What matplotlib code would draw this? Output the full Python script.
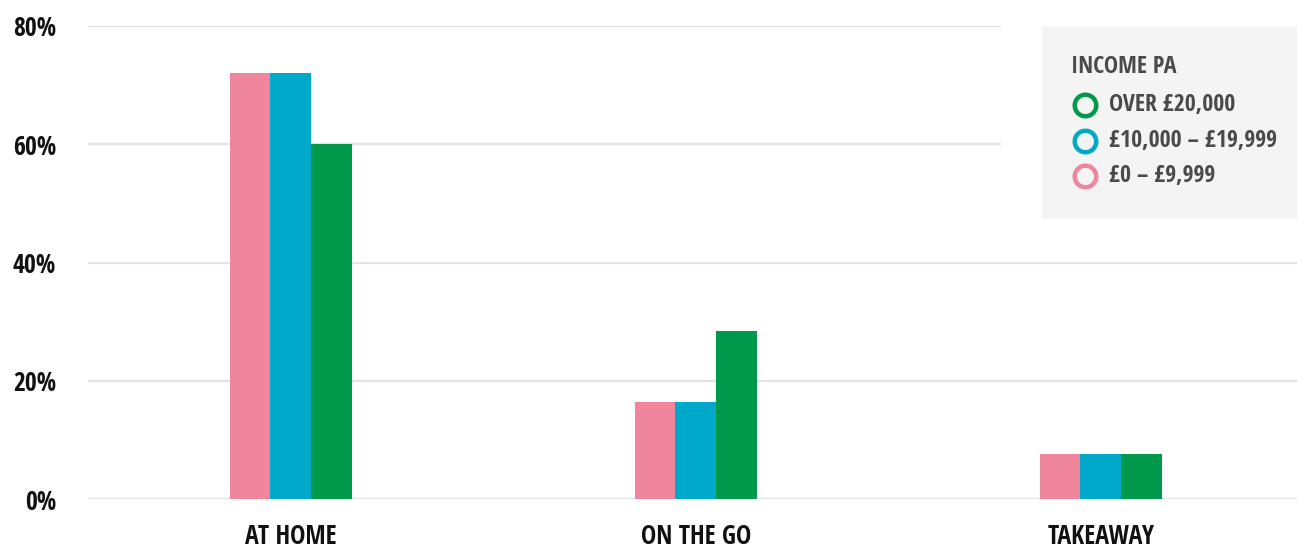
import matplotlib
matplotlib.use("Agg")
import matplotlib.pyplot as plt
from matplotlib import font_manager
from matplotlib.patches import Rectangle
from matplotlib.lines import Line2D
import numpy as np

# ---- data -------------------------------------------------------------
categories = ["AT HOME", "ON THE GO", "TAKEAWAY"]
series_names = ["£0 – £9,999", "£10,000 – £19,999", "OVER £20,000"]
low_income = [72.0, 16.4, 7.6]
mid_income = [72.0, 16.4, 7.6]
high_income = [60.0, 28.4, 7.6]
y_ticks = [0, 20, 40, 60, 80]
y_tick_labels = ["0%", "20%", "40%", "60%", "80%"]
legend_title = "INCOME PA"

colors = ["#EF869E", "#00A8C9", "#00984A"]

# ---- pick the narrowest installed sans family --------------------------
def pick_font():
    names = {(f.name, f.stretch) for f in font_manager.fontManager.ttflist}
    plain = {n for n, _ in names}
    for cand in ["Open Sans Condensed", "Liberation Sans Narrow",
                 "DejaVu Sans Condensed", "Roboto Condensed"]:
        if cand in plain:
            return dict(family=cand)
    for n, s in names:
        if n == "DejaVu Sans" and "condensed" in str(s):
            return dict(family="DejaVu Sans", stretch="condensed")
    return dict(family="DejaVu Sans")

FONT = pick_font()

W, H = 1297, 548
fig = plt.figure(figsize=(W / 100, H / 100), dpi=100)
fig.patch.set_facecolor("white")


def fx(px):
    return px / W


def fy(py):
    return 1 - py / H


# axes: plot area from x=88 to the right edge, y from 0% (px 499) to 80% (px 26)
ax = fig.add_axes([fx(88), fy(499), fx(W) - fx(88), fy(26) - fy(499)])
ax.set_facecolor("none")
ax.set_ylim(0, 80)
ax.set_xlim(-0.5012, 2.484)

x = np.arange(len(categories))
bw = 0.1012
for i, (vals, c) in enumerate(zip([low_income, mid_income, high_income], colors)):
    ax.bar(x + (i - 1) * bw, vals, width=bw, color=c, linewidth=0, zorder=3)

# horizontal grid; the upper lines stop short of the legend panel
for t in y_ticks:
    xmax = 1.0 if t <= 40 else (1000 - 88) / (W - 88)
    ax.axhline(t, xmin=0, xmax=xmax, color="#E3E3E3", linewidth=1.6, zorder=1)

for s in ax.spines.values():
    s.set_visible(False)

ax.set_yticks(y_ticks)
ax.set_yticklabels(y_tick_labels)
ax.set_xticks(x)
ax.set_xticklabels(categories)
ax.tick_params(axis="both", length=0)
ax.tick_params(axis="y", pad=23)
ax.tick_params(axis="x", pad=17)
for lab in ax.get_yticklabels() + ax.get_xticklabels():
    lab.set_fontweight("bold")
    lab.set_fontsize(18.5)
    lab.set_color("#111111")
    lab.set_fontfamily(FONT["family"])
    if "stretch" in FONT:
        lab.set_fontstretch(FONT["stretch"])

# ---- legend panel --------------------------------------------------------
fig.add_artist(Rectangle((fx(1042), fy(219)), fx(W) - fx(1042), fy(26) - fy(219),
                         transform=fig.transFigure, facecolor="#F4F4F4",
                         edgecolor="none", zorder=0))
txt_kw = dict(fontweight="bold", color="#4A4A4A", fontsize=17.2,
              va="center", ha="left", **({"fontstretch": FONT["stretch"]} if "stretch" in FONT else {}))
fig.text(fx(1071), fy(67), legend_title, family=FONT["family"], **txt_kw)
rows_y = [105, 141, 176]
for name, c, yy in zip(series_names[::-1], colors[::-1], rows_y):
    fig.add_artist(Line2D([fx(1085)], [fy(yy)], transform=fig.transFigure,
                          marker="o", markersize=15.5, markerfacecolor="none",
                          markeredgecolor=c, markeredgewidth=3.2, linestyle="none"))
    fig.text(fx(1109), fy(yy), name, family=FONT["family"], **txt_kw)

fig.savefig("out.png", dpi=100)
